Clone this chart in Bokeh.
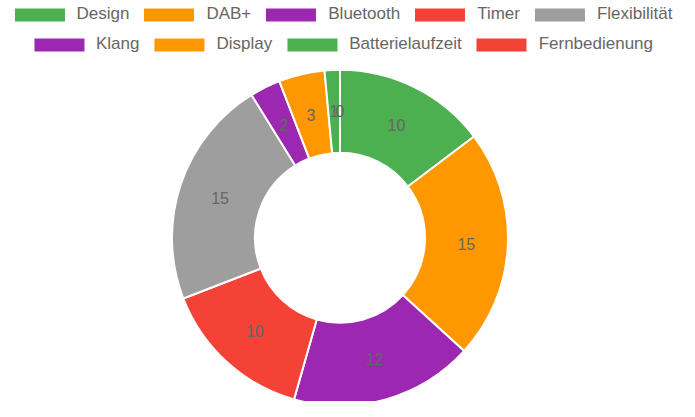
import numpy as np
from bokeh.plotting import figure
from bokeh.models import Range1d, Legend, LegendItem, ColumnDataSource
from bokeh.embed import file_html
from bokeh.resources import INLINE
from bokeh.core.properties import value

categories = ["Design", "DAB+", "Bluetooth", "Timer", "Flexibilität",
              "Klang", "Display", "Batterielaufzeit", "Fernbedienung"]
values = [10, 15, 12, 10, 15, 2, 3, 1, 0]
colors = ["#4CAF50", "#FF9800", "#9C27B0", "#F44336", "#9E9E9E",
          "#9C27B0", "#FF9800", "#4CAF50", "#F44336"]

W, H = 679, 401
p = figure(width=W, height=H, output_backend="svg", toolbar_location=None,
           x_range=Range1d(0, W), y_range=Range1d(0, H), min_border=0)
p.axis.visible = False
p.grid.visible = False
p.outline_line_color = None
p.background_fill_color = "white"

cx, cy = W / 2, H - 237.3
r_out, r_in = 168, 85

vals = np.array(values, dtype=float)
total = vals.sum()
cum = np.concatenate([[0], np.cumsum(vals)])
start = np.pi / 2 - 2 * np.pi * cum[:-1] / total
end = np.pi / 2 - 2 * np.pi * cum[1:] / total
# empty slices are not drawn
start = np.where(vals > 0, start, np.nan)
end = np.where(vals > 0, end, np.nan)
mid = np.pi / 2 - 2 * np.pi * (cum[:-1] + vals / 2) / total
rm = (r_out + r_in) / 2

src = ColumnDataSource(dict(cat=categories, val=values, color=colors,
                            start=start, end=end,
                            x=[cx] * len(values), y=[cy] * len(values),
                            lx=cx + rm * np.cos(mid), ly=cy + rm * np.sin(mid),
                            label=[str(v) for v in values]))

r = p.annular_wedge(x="x", y="y", inner_radius=r_in, outer_radius=r_out,
                    inner_radius_units="screen", outer_radius_units="screen",
                    start_angle="start", end_angle="end", direction="clock",
                    fill_color="color", line_color="white", line_width=2,
                    source=src)

p.text(x="lx", y="ly", text="label", source=src, text_align="center",
       text_baseline="middle", text_font=value("Liberation Sans"),
       text_font_size="16px", text_color="#666666")

items = [LegendItem(label=c, renderers=[r], index=i) for i, c in enumerate(categories)]

def make_legend(its, margin):
    return Legend(items=its, orientation="horizontal", location="top_center",
                  margin=margin, padding=0, spacing=7, glyph_width=65,
                  glyph_height=19, label_standoff=5, label_height=20,
                  label_text_font="Liberation Sans", label_text_font_size="17px",
                  label_text_color="#666666", border_line_alpha=0,
                  background_fill_alpha=0)

p.add_layout(make_legend(items[:5], 4))
p.add_layout(make_legend(items[5:], 34))

open("out.html", "w").write(file_html(p, INLINE))
